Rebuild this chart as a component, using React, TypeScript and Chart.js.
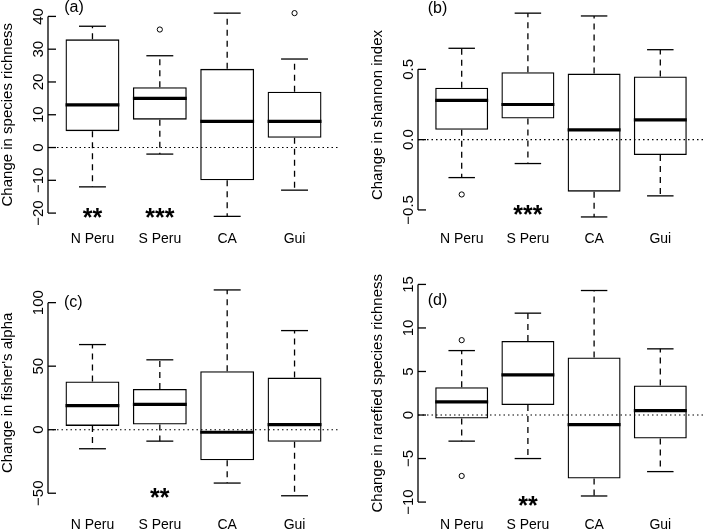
import React, { useEffect, useRef } from "react";
import { Chart, registerables } from "chart.js";

Chart.register(...registerables);

const categories = ["N Peru", "S Peru", "CA", "Gui"];

// (a) species richness
const richLow = [-12, -2, -21, -13];
const richQ1 = [5, 8.5, -10, 3];
const richMed = [13, 15, 8, 8];
const richQ3 = [33, 18.4, 24, 17];
const richHigh = [37, 28, 41, 27];
const richOutliers = [[], [36], [], [41]];
const richTicks = [-20, -10, 0, 10, 20, 30, 40];
const richStars = ["**", "***", "", ""];

// (b) shannon index
const shanLow = [-0.27, -0.17, -0.55, -0.4];
const shanQ1 = [0.07, 0.15, -0.37, -0.11];
const shanMed = [0.28, 0.25, 0.07, 0.14];
const shanQ3 = [0.37, 0.48, 0.47, 0.45];
const shanHigh = [0.65, 0.9, 0.88, 0.64];
const shanOutliers = [[-0.39], [], [], []];
const shanTicks = [-0.5, 0, 0.5];
const shanStars = ["", "***", "", ""];

// (c) fisher's alpha
const fishLow = [-15, -9, -42, -52];
const fishQ1 = [3, 4, -24, -9.5];
const fishMed = [19, 20, -2, 4];
const fishQ3 = [38, 32, 46, 41];
const fishHigh = [67, 55, 110, 78];
const fishOutliers = [[], [], [], []];
const fishTicks = [-50, 0, 50, 100];
const fishStars = ["", "**", "", ""];

// (d) rarefied species richness
const rareLow = [-3, -5, -9.3, -6.5];
const rareQ1 = [-0.4, 1.15, -7.3, -2.7];
const rareMed = [1.5, 4.6, -1.1, 0.5];
const rareQ3 = [3.2, 8.5, 6.6, 3.4];
const rareHigh = [7.4, 11.7, 14.3, 7.6];
const rareOutliers = [[8.6, -7.0], [], [], []];
const rareTicks = [-10, -5, 0, 5, 10, 15];
const rareStars = ["", "**", "", ""];

type Panel = {
  tag: string;
  title: string;
  low: number[];
  q1: number[];
  med: number[];
  q3: number[];
  high: number[];
  outliers: number[][];
  ticks: number[];
  digits: number;
  stars: string[];
  starY: number;
  pos: { left: number; top: number; w: number; h: number };
  pad: { left: number; right: number; top: number; bottom: number };
  tagDx: number;
  tagY: number;
  catY: number;
};

const panels: Panel[] = [
  {
    tag: "(a)", title: "Change in species richness",
    low: richLow, q1: richQ1, med: richMed, q3: richQ3, high: richHigh,
    outliers: richOutliers, ticks: richTicks, digits: 0, stars: richStars, starY: -19.6,
    pos: { left: 0, top: 0, w: 354, h: 266 },
    pad: { left: 48, right: 15, top: 3.5, bottom: 41.5 },
    tagDx: 26, tagY: 12, catY: 243.3,
  },
  {
    tag: "(b)", title: "Change in shannon index",
    low: shanLow, q1: shanQ1, med: shanMed, q3: shanQ3, high: shanHigh,
    outliers: shanOutliers, ticks: shanTicks, digits: 1, stars: shanStars, starY: -0.487,
    pos: { left: 354, top: 0, w: 355, h: 266 },
    pad: { left: 64, right: 0, top: 3.3, bottom: 40.9 },
    tagDx: 19.5, tagY: 13, catY: 243.3,
  },
  {
    tag: "(c)", title: "Change in fisher's alpha",
    low: fishLow, q1: fishQ1, med: fishMed, q3: fishQ3, high: fishHigh,
    outliers: fishOutliers, ticks: fishTicks, digits: 0, stars: fishStars, starY: -49,
    pos: { left: 0, top: 266, w: 354, h: 266 },
    pad: { left: 48, right: 15, top: 15.7, bottom: 28 },
    tagDx: 25.3, tagY: 40.5, catY: 263.3,
  },
  {
    tag: "(d)", title: "Change in rarefied species richness",
    low: rareLow, q1: rareQ1, med: rareMed, q3: rareQ3, high: rareHigh,
    outliers: rareOutliers, ticks: rareTicks, digits: 0, stars: rareStars, starY: -9.68,
    pos: { left: 354, top: 266, w: 355, h: 266 },
    pad: { left: 64, right: 0, top: 16.3, bottom: 27.8 },
    tagDx: 19.5, tagY: 38.5, catY: 263.3,
  },
];

const FONT = '"Liberation Sans", Arial, Helvetica, sans-serif';

function fmt(v: number, d: number) {
  return v.toFixed(d).replace("-", "\u2212");
}

function makePlugin(p: Panel) {
  return {
    id: "rbox",
    afterDraw(chart: any) {
      const ctx: CanvasRenderingContext2D = chart.ctx;
      const xs = chart.scales.x;
      const ys = chart.scales.y;
      const ca = chart.chartArea;
      const line = (x1: number, y1: number, x2: number, y2: number) => {
        ctx.beginPath();
        ctx.moveTo(x1, y1);
        ctx.lineTo(x2, y2);
        ctx.stroke();
      };
      ctx.save();
      ctx.strokeStyle = "#000";
      ctx.fillStyle = "#000";
      ctx.lineWidth = 1.3;
      categories.forEach((_, i) => {
        const c = i + 1;
        const cx = xs.getPixelForValue(c);
        ctx.setLineDash([6, 5]);
        line(cx, ys.getPixelForValue(p.q3[i]), cx, ys.getPixelForValue(p.high[i]));
        line(cx, ys.getPixelForValue(p.q1[i]), cx, ys.getPixelForValue(p.low[i]));
        ctx.setLineDash([]);
        line(xs.getPixelForValue(c - 0.2), ys.getPixelForValue(p.high[i]), xs.getPixelForValue(c + 0.2), ys.getPixelForValue(p.high[i]));
        line(xs.getPixelForValue(c - 0.2), ys.getPixelForValue(p.low[i]), xs.getPixelForValue(c + 0.2), ys.getPixelForValue(p.low[i]));
        ctx.lineWidth = 3.2;
        line(xs.getPixelForValue(c - 0.4), ys.getPixelForValue(p.med[i]), xs.getPixelForValue(c + 0.4), ys.getPixelForValue(p.med[i]));
        ctx.lineWidth = 1.3;
      });
      // zero reference line
      ctx.lineWidth = 1.1;
      ctx.setLineDash([1.5, 3]);
      const y0 = ys.getPixelForValue(0);
      line(ca.left, y0, ca.right, y0);
      ctx.setLineDash([]);
      // y axis
      ctx.lineWidth = 1.3;
      const tFirst = ys.getPixelForValue(p.ticks[0]);
      const tLast = ys.getPixelForValue(p.ticks[p.ticks.length - 1]);
      line(ca.left, tFirst, ca.left, tLast);
      ctx.font = "15px " + FONT;
      ctx.textAlign = "center";
      ctx.textBaseline = "alphabetic";
      p.ticks.forEach((t) => {
        const ty = ys.getPixelForValue(t);
        line(ca.left, ty, ca.left + 8, ty);
        ctx.save();
        ctx.translate(ca.left - 5, ty);
        ctx.rotate(-Math.PI / 2);
        ctx.fillText(fmt(t, p.digits), 0, 0);
        ctx.restore();
      });
      // axis title
      ctx.save();
      ctx.translate(ca.left - 36, (ca.top + ca.bottom) / 2);
      ctx.rotate(-Math.PI / 2);
      ctx.fillText(p.title, 0, 0);
      ctx.restore();
      // category labels
      ctx.font = "14px " + FONT;
      categories.forEach((cat, i) => {
        ctx.fillText(cat, xs.getPixelForValue(i + 1), p.catY);
      });
      // significance stars
      ctx.font = "bold 25px " + FONT;
      p.stars.forEach((s, i) => {
        if (s) ctx.fillText(s, xs.getPixelForValue(i + 1), ys.getPixelForValue(p.starY) + 14.5);
      });
      // panel tag
      ctx.font = "16px " + FONT;
      ctx.fillText(p.tag, ca.left + p.tagDx, p.tagY);
      ctx.restore();
    },
  };
}

function BoxPanel({ p }: { p: Panel }) {
  const ref = useRef<HTMLCanvasElement | null>(null);
  useEffect(() => {
    if (!ref.current) return;
    const all = [...p.low, ...p.high, ...p.outliers.flat()];
    const lo = Math.min(...all);
    const hi = Math.max(...all);
    const ext = (hi - lo) * 0.04;
    const boxData = categories.map((_, i) => ({ x: i + 1, y: [p.q1[i], p.q3[i]] }));
    const outData: { x: number; y: number }[] = [];
    p.outliers.forEach((arr, i) => arr.forEach((v) => outData.push({ x: i + 1, y: v })));
    const chart = new Chart(ref.current, {
      type: "bar",
      data: {
        datasets: [
          {
            type: "bar",
            data: boxData as any,
            backgroundColor: "rgba(0,0,0,0)",
            borderColor: "#000",
            borderWidth: 1.3,
            borderSkipped: false,
            barPercentage: 1,
            categoryPercentage: 0.8,
          } as any,
          {
            type: "scatter",
            data: outData,
            pointStyle: "circle",
            pointRadius: 2.6,
            pointBorderWidth: 1,
            pointBorderColor: "#000",
            pointBackgroundColor: "rgba(0,0,0,0)",
            showLine: false,
          } as any,
        ],
      },
      options: {
        responsive: false,
        animation: false,
        layout: { padding: p.pad },
        scales: {
          x: {
            type: "linear", min: 0.34, max: 4.66, display: false, offset: false,
            afterBuildTicks: (s: any) => { s.ticks = categories.map((_, i) => ({ value: i + 1 })); },
          },
          y: { type: "linear", min: lo - ext, max: hi + ext, display: false },
        },
        plugins: { legend: { display: false }, tooltip: { enabled: false } },
      } as any,
      plugins: [makePlugin(p)],
    });
    return () => chart.destroy();
  }, [p]);
  return (
    <canvas
      ref={ref}
      width={p.pos.w}
      height={p.pos.h}
      style={{ position: "absolute", left: p.pos.left, top: p.pos.top, width: p.pos.w, height: p.pos.h }}
    />
  );
}

export default function App() {
  return (
    <div style={{ position: "absolute", left: 0, top: 0, width: 709, height: 532, background: "#fff" }}>
      {panels.map((p) => (
        <BoxPanel key={p.tag} p={p} />
      ))}
    </div>
  );
}
